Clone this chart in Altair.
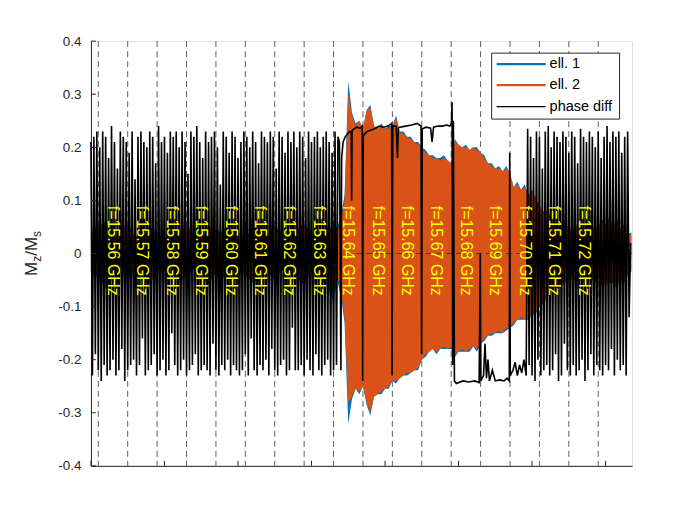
import altair as alt
import pandas as pd
import numpy as np

# ---------------- data ----------------
freqs = ["15.56", "15.57", "15.58", "15.59", "15.60", "15.61", "15.62", "15.63", "15.64",
         "15.65", "15.66", "15.67", "15.68", "15.69", "15.70", "15.71", "15.72"]
boundaries = [0.5, 2.5, 4.5, 6.5, 8.5, 10.5, 12.5, 14.5, 16.5, 18.5, 20.5, 22.5,
              24.5, 26.5, 28.5, 30.5, 32.5, 34.5]
y_ticks = [-0.4, -0.3, -0.2, -0.1, 0.0, 0.1, 0.2, 0.3, 0.4]
x_ticks = [0, 5, 10, 15, 20, 25, 30, 35]

# envelopes of ell. 1 / ell. 2 (small region sampled every 0.5, large region every 0.25)
ell2_top_small = [0.035, 0.045, 0.058, 0.03, 0.04, 0.05, 0.025, 0.035, 0.045, 0.03, 0.02, 0.04,
                  0.035, 0.05, 0.03, 0.025, 0.045, 0.04, 0.03, 0.05, 0.035, 0.025, 0.04, 0.055,
                  0.03, 0.045, 0.035, 0.02, 0.04, 0.05, 0.035, 0.03, 0.045, 0.04]
ell2_bot_small = [-0.035, -0.04, -0.06, -0.035, -0.03, -0.045, -0.03, -0.04, -0.05, -0.025, -0.03,
                  -0.035, -0.045, -0.04, -0.025, -0.035, -0.05, -0.03, -0.04, -0.045, -0.03, -0.035,
                  -0.05, -0.04, -0.03, -0.045, -0.025, -0.035, -0.04, -0.055, -0.03, -0.04, -0.05, -0.06]
ell1_top_small = [0.04, 0.05, 0.06, 0.035, 0.05, 0.055, 0.03, 0.04, 0.05, 0.04, 0.025, 0.045,
                  0.04, 0.055, 0.035, 0.03, 0.05, 0.045, 0.04, 0.055, 0.04, 0.03, 0.045, 0.06,
                  0.035, 0.05, 0.04, 0.03, 0.045, 0.055, 0.04, 0.035, 0.05, 0.05]
ell1_bot_small = [-0.04, -0.045, -0.065, -0.04, -0.035, -0.05, -0.035, -0.045, -0.06, -0.03, -0.035,
                  -0.04, -0.05, -0.045, -0.03, -0.04, -0.06, -0.035, -0.045, -0.05, -0.035, -0.04,
                  -0.055, -0.045, -0.035, -0.05, -0.03, -0.04, -0.045, -0.06, -0.035, -0.045, -0.06, -0.09]

ell2_top_big = [0.04, 0.06, 0.10, 0.30, 0.26, 0.24, 0.25, 0.235,
                0.27, 0.275, 0.24, 0.235, 0.24, 0.235, 0.235, 0.24,
                0.255, 0.23, 0.225, 0.22, 0.215, 0.21, 0.205, 0.20,
                0.19, 0.185, 0.18, 0.18, 0.175, 0.18, 0.175, 0.17,
                0.21, 0.205, 0.20, 0.20, 0.195, 0.20, 0.195, 0.19,
                0.18, 0.17, 0.165, 0.16, 0.16, 0.155, 0.16, 0.15,
                0.125, 0.13, 0.12, 0.125, 0.11, 0.115, 0.105, 0.09,
                0.075, 0.08, 0.065, 0.06, 0.055, 0.06, 0.05, 0.05,
                0.045, 0.05, 0.04, 0.045, 0.05, 0.04, 0.045, 0.05,
                0.06, 0.055, 0.065, 0.05, 0.06, 0.045, 0.05, 0.035, 0.035]
ell2_bot_big = [-0.04, -0.07, -0.12, -0.28, -0.27, -0.255, -0.26, -0.25,
                -0.28, -0.30, -0.27, -0.265, -0.26, -0.255, -0.25, -0.24,
                -0.24, -0.235, -0.23, -0.225, -0.225, -0.22, -0.215, -0.20,
                -0.19, -0.185, -0.18, -0.185, -0.18, -0.175, -0.18, -0.175,
                -0.19, -0.185, -0.18, -0.185, -0.18, -0.175, -0.18, -0.17,
                -0.16, -0.155, -0.15, -0.15, -0.145, -0.15, -0.14, -0.14,
                -0.13, -0.125, -0.12, -0.125, -0.12, -0.115, -0.11, -0.10,
                -0.09, -0.085, -0.07, -0.065, -0.06, -0.055, -0.05, -0.05,
                -0.045, -0.05, -0.04, -0.05, -0.045, -0.04, -0.05, -0.045,
                -0.055, -0.06, -0.05, -0.055, -0.06, -0.045, -0.05, -0.04, -0.03]
ell1_top_big = [0.05, 0.07, 0.11, 0.325, 0.265, 0.245, 0.25, 0.235,
                0.27, 0.28, 0.24, 0.235, 0.245, 0.235, 0.24, 0.24,
                0.26, 0.23, 0.23, 0.22, 0.22, 0.21, 0.21, 0.20,
                0.195, 0.185, 0.185, 0.18, 0.18, 0.185, 0.175, 0.17,
                0.215, 0.205, 0.20, 0.205, 0.195, 0.20, 0.2, 0.19,
                0.185, 0.17, 0.17, 0.16, 0.165, 0.155, 0.165, 0.15,
                0.125, 0.135, 0.12, 0.13, 0.11, 0.12, 0.105, 0.09,
                0.08, 0.08, 0.07, 0.06, 0.06, 0.06, 0.055, 0.05,
                0.045, 0.055, 0.04, 0.045, 0.055, 0.04, 0.05, 0.05,
                0.065, 0.055, 0.07, 0.05, 0.065, 0.045, 0.055, 0.035, 0.04]
ell1_bot_big = [-0.05, -0.08, -0.13, -0.32, -0.275, -0.255, -0.265, -0.25,
                -0.285, -0.305, -0.27, -0.265, -0.265, -0.255, -0.255, -0.24,
                -0.245, -0.235, -0.23, -0.23, -0.225, -0.22, -0.22, -0.20,
                -0.195, -0.185, -0.18, -0.19, -0.18, -0.18, -0.18, -0.18,
                -0.195, -0.185, -0.185, -0.185, -0.185, -0.175, -0.185, -0.17,
                -0.165, -0.155, -0.155, -0.15, -0.15, -0.15, -0.145, -0.14,
                -0.135, -0.125, -0.125, -0.125, -0.125, -0.115, -0.115, -0.10,
                -0.095, -0.085, -0.075, -0.065, -0.065, -0.055, -0.055, -0.05,
                -0.045, -0.055, -0.04, -0.055, -0.045, -0.045, -0.055, -0.045,
                -0.06, -0.06, -0.055, -0.055, -0.065, -0.045, -0.055, -0.04, -0.035]

# phase diff: oscillating part 1 (every 0.1), plateau part (explicit), oscillating part 2 (every 0.1)
phase_osc1 = [0.21, -0.23, 0.22, -0.19, 0.23, -0.22, 0.20, -0.24, 0.23, -0.21,
              0.22, -0.23, 0.18, -0.22, 0.24, -0.20, 0.21, -0.23, 0.16, -0.22,
              0.23, -0.18, 0.22, -0.24, 0.21, -0.22, 0.19, -0.21, 0.23, -0.20,
              0.14, -0.23, 0.22, -0.21, 0.23, -0.16, 0.21, -0.23, 0.20, -0.22,
              0.23, -0.21, 0.22, -0.19, 0.17, -0.23, 0.24, -0.22, 0.21, -0.20,
              0.22, -0.23, 0.19, -0.22, 0.23, -0.15, 0.22, -0.21, 0.23, -0.23,
              0.20, -0.22, 0.23, -0.20, 0.21, -0.23, 0.15, -0.22, 0.23, -0.21,
              0.22, -0.19, 0.24, -0.23, 0.21, -0.22, 0.18, -0.21, 0.23, -0.22,
              0.21, -0.23, 0.22, -0.17, 0.23, -0.22, 0.20, -0.23, 0.13, -0.21,
              0.23, -0.22, 0.22, -0.20, 0.19, -0.23, 0.23, -0.21, 0.22, -0.22,
              0.18, -0.23, 0.21, -0.22, 0.23, -0.19, 0.22, -0.23, 0.20, -0.16,
              0.23, -0.22, 0.21, -0.23, 0.17, -0.21, 0.23, -0.22, 0.22, -0.20,
              0.21, -0.23, 0.23, -0.18, 0.22, -0.22, 0.16, -0.23, 0.23, -0.21,
              0.22, -0.20, 0.19, -0.23, 0.23, -0.22, 0.21, -0.14, 0.23, -0.22,
              0.20, -0.22, 0.23, -0.21, 0.22, -0.23, 0.18, -0.20, 0.23, -0.22,
              0.21, -0.23, 0.22, -0.19, 0.23, -0.22, 0.20, -0.23, 0.22, -0.21,
              0.23, -0.20, 0.21, -0.23, 0.19, -0.22, 0.23, -0.21, 0.22, 0.21,
              -0.22]
plat_x = [17.05, 17.15, 17.3, 17.45, 17.6, 17.7, 17.73, 17.76, 17.9, 18.1, 18.3, 18.45, 18.48, 18.52,
          18.6, 18.8, 19.0, 19.3, 19.6, 19.9, 20.2, 20.45, 20.48, 20.53, 20.75, 20.85, 20.9, 21.0,
          21.4, 21.8, 22.2, 22.45, 22.49, 22.53, 22.8, 23.1, 23.2, 23.3, 23.6, 23.9, 24.2, 24.4,
          24.52, 24.56, 24.6, 24.65, 24.72, 24.85, 25.3, 25.7, 26.1, 26.4, 26.48, 26.52, 26.7,
          26.8, 26.9, 27.0, 27.1, 27.3, 27.5, 27.8, 28.1, 28.3, 28.45, 28.48, 28.52, 28.7, 28.85,
          29.0, 29.15, 29.3, 29.45, 29.6]
plat_y = [0.18, 0.21, 0.22, 0.225, 0.23, 0.228, 0.10, 0.232, 0.235, 0.238, 0.236, 0.24, -0.24, 0.22,
          0.225, 0.23, 0.232, 0.235, 0.24, 0.238, 0.24, 0.245, -0.23, 0.24, 0.24, 0.18, 0.236, 0.238,
          0.24, 0.242, 0.245, 0.24, -0.19, 0.235, 0.238, 0.236, 0.21, 0.238, 0.24, 0.24, 0.242, 0.24,
          0.245, 0.285, -0.21, 0.25, -0.24, -0.245, -0.24, -0.242, -0.24, -0.243, 0.0, -0.24, -0.23,
          -0.17, -0.235, -0.2, -0.24, -0.22, -0.24, -0.238, -0.24, -0.235, -0.24, 0.19, -0.23, -0.22,
          -0.205, -0.23, -0.21, -0.225, -0.2, -0.23]
phase_osc2 = [0.235, -0.21, 0.22, -0.23, 0.18, -0.24, 0.23, -0.20, 0.22, -0.23,
              0.16, -0.22, 0.23, -0.21, 0.24, -0.23, 0.20, -0.22, 0.23, -0.19,
              0.22, -0.24, 0.21, -0.23, 0.23, -0.17, 0.22, -0.22, 0.19, -0.23,
              0.23, -0.21, 0.22, -0.23, 0.17, -0.22, 0.235, -0.20, 0.22, -0.24,
              0.21, -0.22, 0.23, -0.19, 0.22, -0.23, 0.20, -0.21, 0.23, -0.22,
              0.18, -0.23, 0.22, -0.21, 0.24, -0.22, 0.21, -0.18, 0.23, -0.23,
              0.22, -0.20, 0.23, -0.22, 0.19, -0.21, 0.22, -0.23, 0.23, -0.12,
              0.02]

legend_labels = ["ell. 1", "ell. 2", "phase diff"]
legend_colors = ["#0072BD", "#D95319", "#000000"]
legend_widths = [2.4, 2.4, 1.2]

# ---------------- tables ----------------
ell_t = np.concatenate([np.arange(len(ell2_top_small)) * 0.5,
                        16.75 + np.arange(len(ell2_top_big)) * 0.25])
ell_df = pd.DataFrame({
    "t": ell_t,
    "top1": ell1_top_small + ell1_top_big,
    "bot1": ell1_bot_small + ell1_bot_big,
    "top2": ell2_top_small + ell2_top_big,
    "bot2": ell2_bot_small + ell2_bot_big,
})
phase_df = pd.DataFrame({
    "t": np.concatenate([np.arange(len(phase_osc1)) * 0.1, plat_x,
                         29.7 + np.arange(len(phase_osc2)) * 0.1]),
    "y": phase_osc1 + plat_y + phase_osc2,
})
bound_df = pd.DataFrame({"t": boundaries})
label_df = pd.DataFrame({"t": [b + 1 for b in boundaries[:-1]],
                         "label": ["f=" + f + " GHz" for f in freqs]})

# ---------------- chart ----------------
W, H = 541.5, 425
FONT = "Liberation Sans"
AX = "#262626"
xs = alt.Scale(domain=[0, 36.8], nice=False, zero=False)
ys = alt.Scale(domain=[-0.4, 0.4], nice=False, zero=False)
xax = alt.Axis(values=x_ticks, labels=False, ticks=False, title=None, grid=False,
               domainColor=AX, domainWidth=1)
yax = alt.Axis(values=y_ticks, ticks=False, title=None, grid=False, domainColor=AX,
               domainWidth=1, labelFontSize=13.5, labelColor=AX, labelPadding=10,
               labelFont=FONT,
               labelExpr="datum.value == 0 ? '0' : replace(format(datum.value, '.1f'), '\u2212', '-')")

def X(f):
    return alt.X(f, scale=xs, axis=xax)

def Y(f):
    return alt.Y(f, scale=ys, axis=yax)

vlines = alt.Chart(bound_df).mark_rule(color="#4d4d4d", strokeWidth=0.9, strokeDash=[6, 4]).encode(
    x=X("t:Q"))

blue = alt.Chart(ell_df).mark_area(color="#0072BD", interpolate="linear", opacity=1).encode(
    x=X("t:Q"), y=Y("top1:Q"), y2="bot1:Q")
orange = alt.Chart(ell_df).mark_area(color="#D95319", interpolate="linear", opacity=1).encode(
    x=X("t:Q"), y=Y("top2:Q"), y2="bot2:Q")

zero = alt.Chart(pd.DataFrame({"y": [0.0]})).mark_rule(
    color="#262626", strokeWidth=0.9, strokeDash=[6, 4], opacity=0.75).encode(y=Y("y:Q"))

black = alt.Chart(phase_df).mark_line(color="#000000", strokeWidth=1.6).encode(
    x=X("t:Q"), y=Y("y:Q"))

labels = alt.Chart(label_df).mark_text(angle=90, align="left", baseline="middle",
                                       fontSize=16, color="#FFFF00", font=FONT).encode(
    x=X("t:Q"), y=alt.datum(0.09), text="label:N")

ytick_marks = alt.Chart(pd.DataFrame({"v": y_ticks})).mark_rule(color=AX, strokeWidth=1).encode(
    y=Y("v:Q"), x=alt.value(0), x2=alt.value(5))
xtick_marks = alt.Chart(pd.DataFrame({"v": x_ticks})).mark_rule(color=AX, strokeWidth=1).encode(
    x=X("v:Q"), y=alt.value(H), y2=alt.value(H - 5))

one = pd.DataFrame({"a": [0]})

# y-axis title M_z/M_s built from pieces
title_parts = [("M", 17, -54, 235), ("z", 12, -50, 220.8), ("/M", 17, -54, 214.8), ("s", 12, -50, 195.9)]
title_layers = []
for txt, fs, px, py in title_parts:
    title_layers.append(
        alt.Chart(one).mark_text(angle=270, align="left", baseline="alphabetic", fontSize=fs,
                                 color=AX, font=FONT).encode(
            x=alt.value(px), y=alt.value(py), text=alt.value(txt)))

# legend
legend_layers = [alt.Chart(one).mark_rect(fill="white", stroke=AX, strokeWidth=1).encode(
    x=alt.value(401), x2=alt.value(529), y=alt.value(12), y2=alt.value(78))]
row_y = [23, 44, 65.5]
for lab, col, sw, ry in zip(legend_labels, legend_colors, legend_widths, row_y):
    legend_layers.append(alt.Chart(one).mark_rule(color=col, strokeWidth=sw).encode(
        x=alt.value(406), x2=alt.value(455), y=alt.value(ry)))
    legend_layers.append(alt.Chart(one).mark_text(align="left", baseline="middle", fontSize=14.5,
                                                  color="#000000", font=FONT).encode(
        x=alt.value(459), y=alt.value(ry), text=alt.value(lab)))

chart = alt.layer(vlines, blue, orange, zero, black, labels, ytick_marks, xtick_marks,
                  *title_layers, *legend_layers).properties(
    width=W, height=H,
    autosize=alt.AutoSizeParams(type="none"),
    padding={"left": 83, "top": 33, "right": 60, "bottom": 40},
    background="white",
).configure_view(stroke=None).configure(font=FONT)

chart.save("out.html", embed_options={"renderer": "svg", "actions": False})
